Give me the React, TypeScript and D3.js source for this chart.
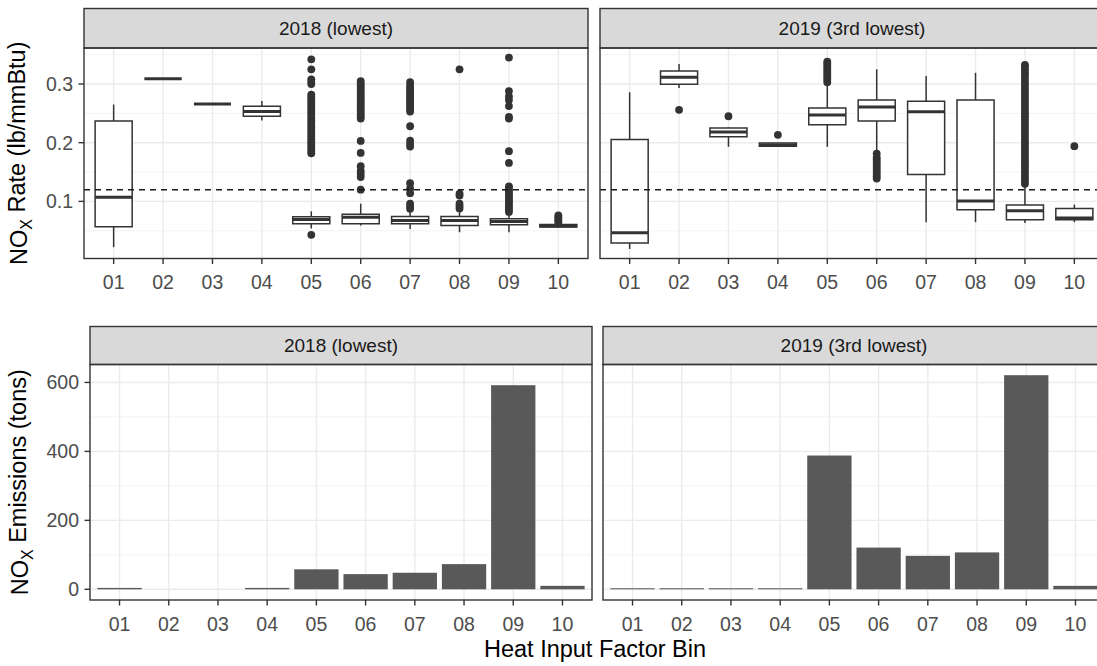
import React, { useRef, useEffect } from 'react';
import * as d3 from 'd3';

const bins = ['01', '02', '03', '04', '05', '06', '07', '08', '09', '10'];
const facets = ['2018 (lowest)', '2019 (3rd lowest)'];
const rateThreshold = 0.12;

// per bin: [lower whisker, q1, median, q3, upper whisker]
const rate2018: number[][] = [
    [0.022, 0.057, 0.107, 0.237, 0.265],
    [0.309, 0.309, 0.309, 0.309, 0.309],
    [0.266, 0.266, 0.266, 0.266, 0.266],
    [0.238, 0.245, 0.253, 0.262, 0.271],
    [0.054, 0.062, 0.069, 0.074, 0.083],
    [0.059, 0.062, 0.073, 0.078, 0.096],
    [0.053, 0.062, 0.0675, 0.0744, 0.086],
    [0.0475, 0.059, 0.0675, 0.0744, 0.082],
    [0.0475, 0.06, 0.0658, 0.0704, 0.08],
    [0.056, 0.0565, 0.058, 0.0605, 0.062],
];

const rate2019: number[][] = [
    [0.019, 0.029, 0.0465, 0.2055, 0.286],
    [0.293, 0.2995, 0.3115, 0.322, 0.334],
    [0.193, 0.21, 0.218, 0.225, 0.226],
    [0.194, 0.194, 0.196, 0.1995, 0.1995],
    [0.193, 0.2305, 0.247, 0.259, 0.301],
    [0.184, 0.237, 0.261, 0.2726, 0.325],
    [0.0646, 0.1456, 0.2527, 0.2704, 0.3137],
    [0.0646, 0.0858, 0.1005, 0.2726, 0.319],
    [0.063, 0.0687, 0.0841, 0.0937, 0.128],
    [0.0646, 0.0687, 0.0715, 0.088, 0.0944],
];

const outliers2018: number[][] = [
    [],
    [],
    [],
    [],
    [0.043, 0.182, 0.186, 0.19, 0.194, 0.198, 0.202, 0.206, 0.21, 0.214, 0.218, 0.222, 0.226, 0.23,
        0.234, 0.238, 0.242, 0.246, 0.25, 0.254, 0.258, 0.262, 0.266, 0.27, 0.274, 0.278, 0.282,
        0.3, 0.304, 0.308, 0.325, 0.342],
    [0.12, 0.1415, 0.147, 0.152, 0.16, 0.1826, 0.203, 0.241, 0.245, 0.249, 0.253, 0.257, 0.261,
        0.265, 0.269, 0.273, 0.277, 0.281, 0.285, 0.289, 0.293, 0.297, 0.301, 0.305],
    [0.0876, 0.092, 0.096, 0.114, 0.122, 0.131, 0.1934, 0.198, 0.2036, 0.228, 0.253, 0.257, 0.261,
        0.265, 0.269, 0.273, 0.277, 0.281, 0.285, 0.289, 0.293, 0.297, 0.303],
    [0.088, 0.092, 0.096, 0.11, 0.113, 0.325],
    [0.082, 0.086, 0.09, 0.094, 0.098, 0.102, 0.106, 0.11, 0.114, 0.118, 0.122, 0.1256, 0.1655,
        0.1855, 0.241, 0.244, 0.2624, 0.2726, 0.279, 0.288, 0.345],
    [0.064, 0.067, 0.07, 0.073, 0.076],
];

const outliers2019: number[][] = [
    [],
    [0.256],
    [0.245],
    [0.2134],
    [0.303, 0.307, 0.311, 0.315, 0.319, 0.323, 0.327, 0.331, 0.335, 0.338],
    [0.139, 0.143, 0.147, 0.151, 0.155, 0.159, 0.163, 0.167, 0.171, 0.175, 0.1815],
    [],
    [],
    [0.13, 0.135, 0.14, 0.145, 0.15, 0.155, 0.16, 0.165, 0.17, 0.175, 0.18, 0.185, 0.19, 0.195,
        0.2, 0.205, 0.21, 0.215, 0.22, 0.225, 0.23, 0.235, 0.24, 0.245, 0.25, 0.255, 0.26, 0.265,
        0.27, 0.275, 0.28, 0.285, 0.29, 0.295, 0.3, 0.305, 0.31, 0.315, 0.32, 0.325, 0.33, 0.3325],
    [0.194],
];

// NOx emissions (tons) per bin
const tons2018 = [4, 0, 0, 4, 58, 44, 48, 73, 592, 10];
const tons2019 = [3, 3, 3, 3, 388, 121, 97, 107, 621, 10];

const rateTicks = [0.1, 0.2, 0.3];
const rateMinor = [0.05, 0.15, 0.25, 0.35];
const tonTicks = [0, 200, 400, 600];
const tonMinor = [100, 300, 500];

const FONT = '"Liberation Sans", Arial, Helvetica, sans-serif';
const DARK = '#333333';
const TICK_SIZE = 19.5;
const TITLE_SIZE = 23.5;

type Row = { stripTop: number; panelTop: number; panelBottom: number; lefts: number[]; width: number };

const topRow: Row = { stripTop: 8.5, panelTop: 48, panelBottom: 258.5, lefts: [84, 600], width: 504 };
const botRow: Row = { stripTop: 326.5, panelTop: 364.5, panelBottom: 600, lefts: [90, 603], width: 502 };

const App: React.FC = () => {
    const svgRef = useRef<SVGSVGElement>(null);

    useEffect(() => {
        const svg = d3.select(svgRef.current);
        svg.selectAll('*').remove();

        // y scales, ggplot style 5% expansion
        const rateVals = [...rate2018.flat(), ...rate2019.flat(), ...outliers2018.flat(), ...outliers2019.flat()];
        const [rMin, rMax] = d3.extent(rateVals) as [number, number];
        const rPad = (rMax - rMin) * 0.05;
        const yRate = d3.scaleLinear()
            .domain([rMin - rPad, rMax + rPad])
            .range([topRow.panelBottom, topRow.panelTop]);

        const tMax = d3.max([...tons2018, ...tons2019]) || 0;
        const tPad = tMax * 0.05;
        const yTons = d3.scaleLinear()
            .domain([-tPad, tMax + tPad])
            .range([botRow.panelBottom, botRow.panelTop]);

        const drawFrame = (row: Row, i: number, y: d3.ScaleLinear<number, number>,
            ticks: number[], minor: number[], fmt: (v: number) => string) => {
            const left = row.lefts[i];
            // ggplot discrete expansion: 0.6 units each side
            const x = d3.scalePoint<string>()
                .domain(bins)
                .range([left, left + row.width])
                .padding(0.6);
            const step = x.step();
            const cx = (b: string) => x(b) as number;

            const g = svg.append('g');
            g.append('rect')
                .attr('x', left).attr('y', row.panelTop)
                .attr('width', row.width).attr('height', row.panelBottom - row.panelTop)
                .attr('fill', 'white');

            minor.forEach(v => {
                g.append('line')
                    .attr('x1', left).attr('x2', left + row.width)
                    .attr('y1', y(v)).attr('y2', y(v))
                    .attr('stroke', '#F0F0F0').attr('stroke-width', 0.8);
            });
            ticks.forEach(v => {
                g.append('line')
                    .attr('x1', left).attr('x2', left + row.width)
                    .attr('y1', y(v)).attr('y2', y(v))
                    .attr('stroke', '#EBEBEB').attr('stroke-width', 1.4);
            });
            bins.forEach(b => {
                g.append('line')
                    .attr('x1', cx(b)).attr('x2', cx(b))
                    .attr('y1', row.panelTop).attr('y2', row.panelBottom)
                    .attr('stroke', '#EBEBEB').attr('stroke-width', 1.4);
            });

            // strip
            g.append('rect')
                .attr('x', left).attr('y', row.stripTop)
                .attr('width', row.width).attr('height', row.panelTop - row.stripTop)
                .attr('fill', '#D9D9D9').attr('stroke', DARK).attr('stroke-width', 1.4);
            g.append('text')
                .attr('x', left + row.width / 2)
                .attr('y', (row.stripTop + row.panelTop) / 2)
                .attr('dy', '0.36em')
                .attr('text-anchor', 'middle')
                .attr('font-family', FONT).attr('font-size', 19)
                .attr('fill', '#1A1A1A')
                .text(facets[i]);

            // x ticks
            bins.forEach(b => {
                g.append('line')
                    .attr('x1', cx(b)).attr('x2', cx(b))
                    .attr('y1', row.panelBottom).attr('y2', row.panelBottom + 5.5)
                    .attr('stroke', DARK).attr('stroke-width', 1.4);
                g.append('text')
                    .attr('x', cx(b)).attr('y', row.panelBottom + 23.5)
                    .attr('dy', '0.36em')
                    .attr('text-anchor', 'middle')
                    .attr('font-family', FONT).attr('font-size', TICK_SIZE)
                    .attr('fill', '#4D4D4D')
                    .text(b);
            });

            // y ticks (first facet only)
            if (i === 0) {
                ticks.forEach(v => {
                    g.append('line')
                        .attr('x1', left - 5.5).attr('x2', left)
                        .attr('y1', y(v)).attr('y2', y(v))
                        .attr('stroke', DARK).attr('stroke-width', 1.4);
                    g.append('text')
                        .attr('x', left - 11).attr('y', y(v))
                        .attr('dy', '0.36em')
                        .attr('text-anchor', 'end')
                        .attr('font-family', FONT).attr('font-size', TICK_SIZE)
                        .attr('fill', '#4D4D4D')
                        .text(fmt(v));
                });
            }

            const content = svg.append('g');
            const border = () => svg.append('rect')
                .attr('x', left).attr('y', row.panelTop)
                .attr('width', row.width).attr('height', row.panelBottom - row.panelTop)
                .attr('fill', 'none').attr('stroke', DARK).attr('stroke-width', 1.4);

            return { content, cx, step, border };
        };

        // --- top row: NOx rate boxplots
        [rate2018, rate2019].forEach((stats, i) => {
            const outs = i === 0 ? outliers2018 : outliers2019;
            const { content, cx, step, border } = drawFrame(topRow, i, yRate, rateTicks, rateMinor, d3.format('.1f'));
            const bw = step * 0.75;

            bins.forEach((b, j) => {
                const [lo, q1, med, q3, hi] = stats[j];
                const x0 = cx(b);

                outs[j].forEach(v => {
                    content.append('circle')
                        .attr('cx', x0).attr('cy', yRate(v)).attr('r', 3.9)
                        .attr('fill', DARK);
                });

                content.append('line')
                    .attr('x1', x0).attr('x2', x0)
                    .attr('y1', yRate(hi)).attr('y2', yRate(q3))
                    .attr('stroke', DARK).attr('stroke-width', 1.5);
                content.append('line')
                    .attr('x1', x0).attr('x2', x0)
                    .attr('y1', yRate(q1)).attr('y2', yRate(lo))
                    .attr('stroke', DARK).attr('stroke-width', 1.5);

                const top = yRate(q3), bot = yRate(q1);
                content.append('path')
                    .attr('d', `M${x0 - bw / 2},${top}H${x0 + bw / 2}V${bot}H${x0 - bw / 2}Z`)
                    .attr('fill', 'white').attr('stroke', DARK).attr('stroke-width', 1.5);
                content.append('line')
                    .attr('x1', x0 - bw / 2).attr('x2', x0 + bw / 2)
                    .attr('y1', yRate(med)).attr('y2', yRate(med))
                    .attr('stroke', DARK).attr('stroke-width', 3);
            });

            content.append('line')
                .attr('x1', topRow.lefts[i]).attr('x2', topRow.lefts[i] + topRow.width)
                .attr('y1', yRate(rateThreshold)).attr('y2', yRate(rateThreshold))
                .attr('stroke', '#1A1A1A').attr('stroke-width', 1.5)
                .attr('stroke-dasharray', '6,5');

            border();
        });

        // --- bottom row: emissions bars
        [tons2018, tons2019].forEach((vals, i) => {
            const { content, cx, step, border } = drawFrame(botRow, i, yTons, tonTicks, tonMinor, d3.format('d'));
            const w = step * 0.9;
            bins.forEach((b, j) => {
                const v = vals[j];
                if (v <= 0) return;
                content.append('rect')
                    .attr('x', cx(b) - w / 2)
                    .attr('y', yTons(v))
                    .attr('width', w)
                    .attr('height', Math.max(yTons(0) - yTons(v), 0.8))
                    .attr('fill', '#595959');
            });
            border();
        });

        // axis titles
        const yTitle = (x: number, y: number, rest: string) => {
            const t = svg.append('text')
                .attr('transform', `translate(${x},${y}) rotate(-90)`)
                .attr('text-anchor', 'middle')
                .attr('dy', '0.36em')
                .attr('font-family', FONT).attr('font-size', TITLE_SIZE)
                .attr('fill', 'black');
            t.append('tspan').text('NO');
            t.append('tspan').attr('font-size', 16).attr('dy', '0.3em').text('X');
            t.append('tspan').attr('dy', '-0.3em').text(rest);
        };
        yTitle(19, (topRow.panelTop + topRow.panelBottom) / 2, ' Rate (lb/mmBtu)');
        yTitle(20, (botRow.panelTop + botRow.panelBottom) / 2, ' Emissions (tons)');

        svg.append('text')
            .attr('x', 595).attr('y', 649)
            .attr('dy', '0.36em')
            .attr('text-anchor', 'middle')
            .attr('font-family', FONT).attr('font-size', TITLE_SIZE)
            .attr('fill', 'black')
            .text('Heat Input Factor Bin');
    }, []);

    return (
        <svg ref={svgRef} width={1097} height={666}
            style={{ position: 'absolute', left: 0, top: 0, background: 'white' }}></svg>
    );
};

export default App;
